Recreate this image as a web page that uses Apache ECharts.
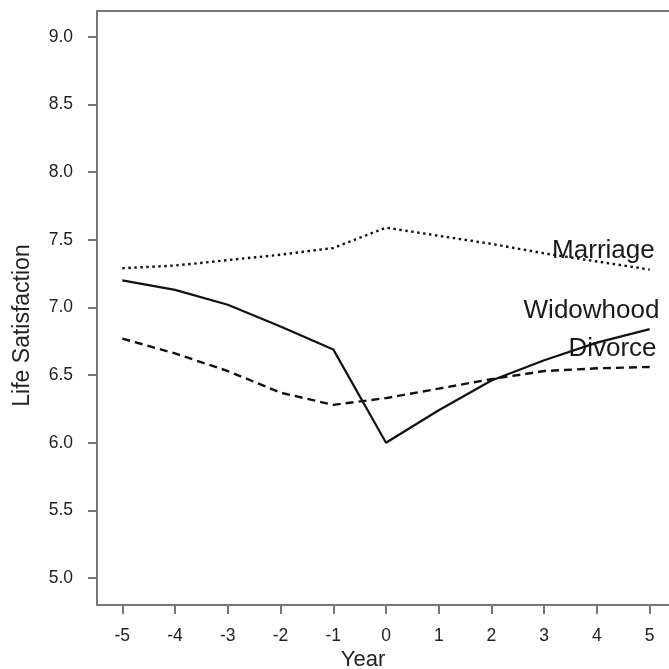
<!DOCTYPE html>
<html>
<head>
<meta charset="utf-8">
<script src="https://cdn.jsdelivr.net/npm/echarts@6/dist/echarts.min.js"></script>
<style>html,body{margin:0;padding:0;background:#fff}#c{width:669px;height:669px}</style>
</head>
<body>
<div id="c"></div>
<script>
var years = [-5, -4, -3, -2, -1, 0, 1, 2, 3, 4, 5];
var marriage = [7.29, 7.31, 7.35, 7.39, 7.44, 7.59, 7.53, 7.47, 7.40, 7.34, 7.28];
var widowhood = [7.20, 7.13, 7.02, 6.86, 6.69, 6.00, 6.24, 6.46, 6.61, 6.74, 6.84];
var divorce = [6.77, 6.66, 6.53, 6.37, 6.28, 6.33, 6.40, 6.47, 6.53, 6.55, 6.56];
var yTicks = [5.0, 5.5, 6.0, 6.5, 7.0, 7.5, 8.0, 8.5, 9.0];
var xTicks = [-5, -4, -3, -2, -1, 0, 1, 2, 3, 4, 5];

function pairs(vals) { return years.map(function (y, i) { return [y, vals[i]]; }); }

var axisCol = '#777777';
var font = 'Liberation Sans, Arial, sans-serif';
var chart = echarts.init(document.getElementById('c'));
chart.setOption({
  animation: false,
  grid: { left: 97, top: 11, right: 0, bottom: 64 },
  xAxis: [{
    type: 'value', min: -5.48, max: 5.366,
    axisLine: { show: true, onZero: false, lineStyle: { color: axisCol, width: 2 } },
    axisTick: { show: true, length: 9, lineStyle: { color: axisCol, width: 2 }, customValues: xTicks },
    axisLabel: { customValues: xTicks, margin: 22, fontSize: 17.5, color: '#222', fontFamily: font },
    splitLine: { show: false }
  }, {
    type: 'value', position: 'top', min: -5.48, max: 5.366,
    axisLine: { show: true, onZero: false, lineStyle: { color: axisCol, width: 2 } },
    axisTick: { show: false }, axisLabel: { show: false }, splitLine: { show: false }
  }],
  yAxis: {
    type: 'value', min: 4.8, max: 9.192,
    axisLine: { show: true, onZero: false, lineStyle: { color: axisCol, width: 2 } },
    axisTick: { show: true, length: 9, lineStyle: { color: axisCol, width: 2 }, customValues: yTicks },
    axisLabel: { customValues: yTicks, margin: 24, fontSize: 17.5, color: '#222', fontFamily: font,
      formatter: function (v) { return Number(v).toFixed(1); } },
    splitLine: { show: false }
  },
  series: [
    { name: 'Marriage', type: 'line', data: pairs(marriage), symbol: 'none',
      lineStyle: { color: '#111', width: 2.4, type: [2.5, 3.5] } },
    { name: 'Widowhood', type: 'line', data: pairs(widowhood), symbol: 'none',
      lineStyle: { color: '#111', width: 2.2, type: 'solid' } },
    { name: 'Divorce', type: 'line', data: pairs(divorce), symbol: 'none',
      lineStyle: { color: '#111', width: 2.4, type: [8, 5] } }
  ],
  graphic: [
    { type: 'text', x: 23, y: 325.5, rotation: Math.PI / 2,
      style: { text: 'Life Satisfaction', fontSize: 23, fill: '#222', align: 'center', verticalAlign: 'middle', fontFamily: font } },
    { type: 'text', x: 363, y: 660,
      style: { text: 'Year', fontSize: 22, fill: '#222', align: 'center', verticalAlign: 'middle', fontFamily: font } },
    { type: 'text', x: 603.4, y: 250.5,
      style: { text: 'Marriage', fontSize: 26, fill: '#1a1a1a', align: 'center', verticalAlign: 'middle', fontFamily: font } },
    { type: 'text', x: 591.5, y: 311,
      style: { text: 'Widowhood', fontSize: 26, fill: '#1a1a1a', align: 'center', verticalAlign: 'middle', fontFamily: font } },
    { type: 'text', x: 612.5, y: 349,
      style: { text: 'Divorce', fontSize: 26, fill: '#1a1a1a', align: 'center', verticalAlign: 'middle', fontFamily: font } }
  ]
});
</script>
</body>
</html>
